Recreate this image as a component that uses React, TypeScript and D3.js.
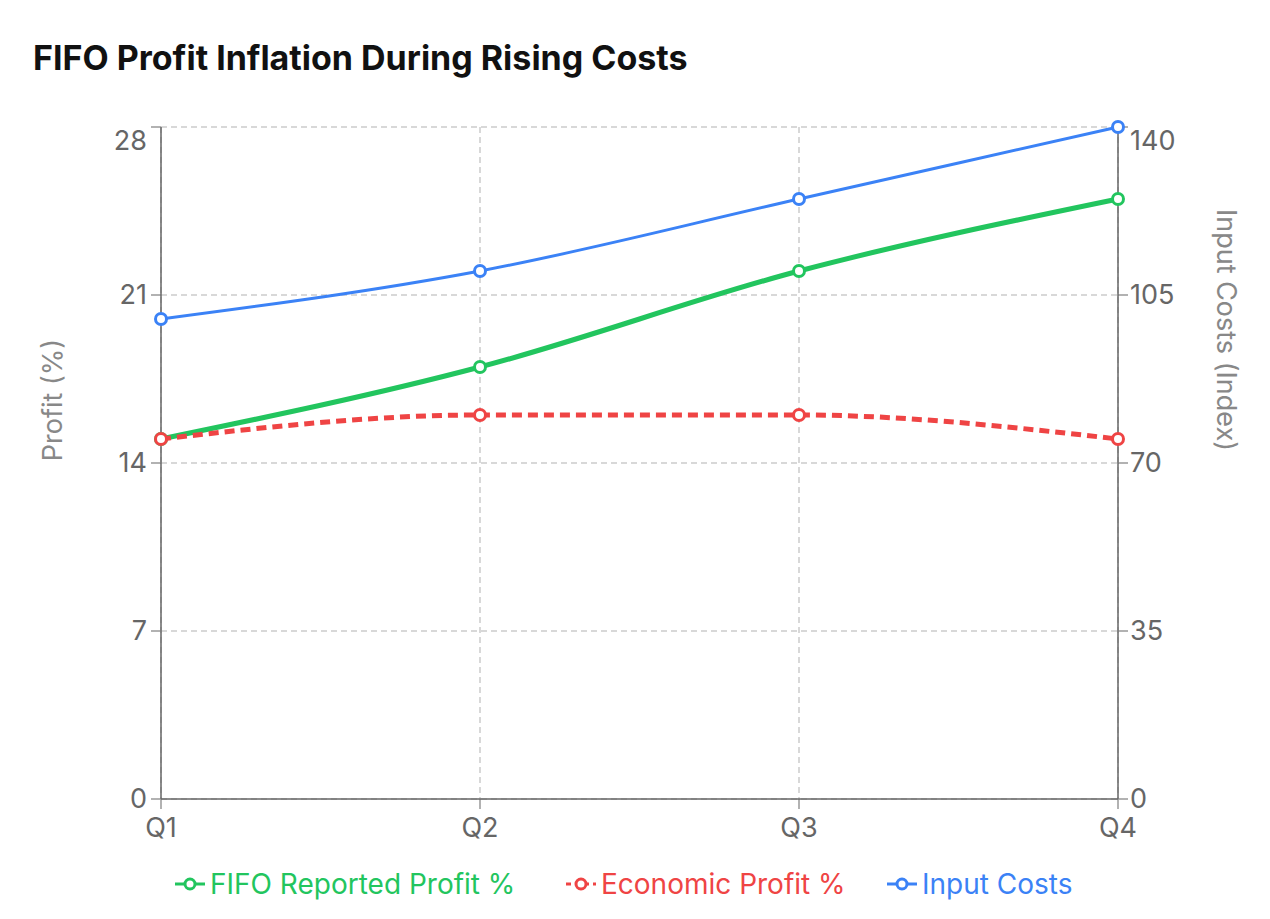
import * as d3 from "d3";

const quarters = ["Q1", "Q2", "Q3", "Q4"];
const fifoProfit = [15, 18, 22, 25];
const economicProfit = [15, 16, 16, 15];
const inputCosts = [100, 110, 125, 140];
const leftTicks = [0, 7, 14, 21, 28];
const rightTicks = [0, 35, 70, 105, 140];

const W = 1270;
const H = 919;
const m = { left: 161, right: 1118, top: 127, bottom: 799 };
const font = "Inter, 'Open Sans', sans-serif";

export default function App() {
  const x = d3.scalePoint().domain(quarters).range([m.left, m.right]);
  const yL = d3.scaleLinear().domain([0, 28]).range([m.bottom, m.top]);
  const yR = d3.scaleLinear().domain([0, 140]).range([m.bottom, m.top]);
  const line = (ys: number[], s: d3.ScaleLinear<number, number>) =>
    d3
      .line<number>()
      .x((_, i) => x(quarters[i])!)
      .y((d) => s(d))
      .curve(d3.curveMonotoneX)(ys)!;

  const series = [
    { name: "FIFO Reported Profit %", data: fifoProfit, s: yL, color: "#22c55e", w: 5, dash: "" },
    { name: "Economic Profit %", data: economicProfit, s: yL, color: "#ef4444", w: 5, dash: "10 6" },
    { name: "Input Costs", data: inputCosts, s: yR, color: "#3b82f6", w: 3, dash: "" },
  ];
  const legendX = [175, 566, 887];

  return (
    <svg width={W} height={H} style={{ display: "block", margin: -8 }} fontFamily={font}>
      <rect width={W} height={H} fill="#fff" />
      <text x={33} y={70} fontSize={34} fontWeight="bold" fill="#111">
        FIFO Profit Inflation During Rising Costs
      </text>
      {leftTicks.map((t) => (
        <g key={t}>
          <line x1={m.left} x2={m.right} y1={yL(t)} y2={yL(t)} stroke="#ccc" strokeDasharray="6 4" strokeWidth={1.5} />
          <line x1={m.left - 10} x2={m.left} y1={yL(t)} y2={yL(t)} stroke="#999" strokeWidth={1.5} />
          <line x1={m.right} x2={m.right + 10} y1={yL(t)} y2={yL(t)} stroke="#999" strokeWidth={1.5} />
          <text x={m.left - 14} y={t === 28 ? 141 : yL(t)} dy="0.35em" textAnchor="end" fontSize={27} fill="#666">
            {t}
          </text>
        </g>
      ))}
      {rightTicks.map((t) => (
        <text key={t} x={m.right + 12} y={t === 140 ? 141 : yR(t)} dy="0.35em" fontSize={27} fill="#666">
          {t}
        </text>
      ))}
      {quarters.map((q) => (
        <g key={q}>
          <line x1={x(q)} x2={x(q)} y1={m.top} y2={m.bottom} stroke="#ccc" strokeDasharray="6 4" strokeWidth={1.5} />
          <line x1={x(q)} x2={x(q)} y1={m.bottom} y2={m.bottom + 10} stroke="#999" strokeWidth={1.5} />
          <text x={x(q)} y={837} textAnchor="middle" fontSize={27} fill="#666">
            {q}
          </text>
        </g>
      ))}
      <line x1={m.left} x2={m.left} y1={m.top} y2={m.bottom} stroke="#666" strokeWidth={1.5} />
      <line x1={m.right} x2={m.right} y1={m.top} y2={m.bottom} stroke="#666" strokeWidth={1.5} />
      <line x1={m.left} x2={m.right} y1={m.bottom} y2={m.bottom} stroke="#666" strokeWidth={1.5} />
      <text transform={`translate(62,400) rotate(-90)`} textAnchor="middle" fontSize={27} fill="#888">
        Profit (%)
      </text>
      <text transform={`translate(1217,330) rotate(90)`} textAnchor="middle" fontSize={27} fill="#888">
        Input Costs (Index)
      </text>
      {series.map((s) => (
        <g key={s.name}>
          <path d={line(s.data, s.s)} fill="none" stroke={s.color} strokeWidth={s.w} strokeDasharray={s.dash} />
          {s.data.map((d, i) => (
            <circle key={i} cx={x(quarters[i])} cy={s.s(d)} r={5.5} fill="#fff" stroke={s.color} strokeWidth={3} />
          ))}
        </g>
      ))}
      {series.map((s, i) => (
        <g key={s.name} transform={`translate(${legendX[i]},884)`}>
          <line x1={0} x2={30} y1={0} y2={0} stroke={s.color} strokeWidth={3} strokeDasharray={s.dash ? "5 4" : ""} />
          <circle cx={15} cy={0} r={5} fill="#fff" stroke={s.color} strokeWidth={3} />
          <text x={35} dy="0.35em" fontSize={28} fill={s.color}>
            {s.name}
          </text>
        </g>
      ))}
    </svg>
  );
}
